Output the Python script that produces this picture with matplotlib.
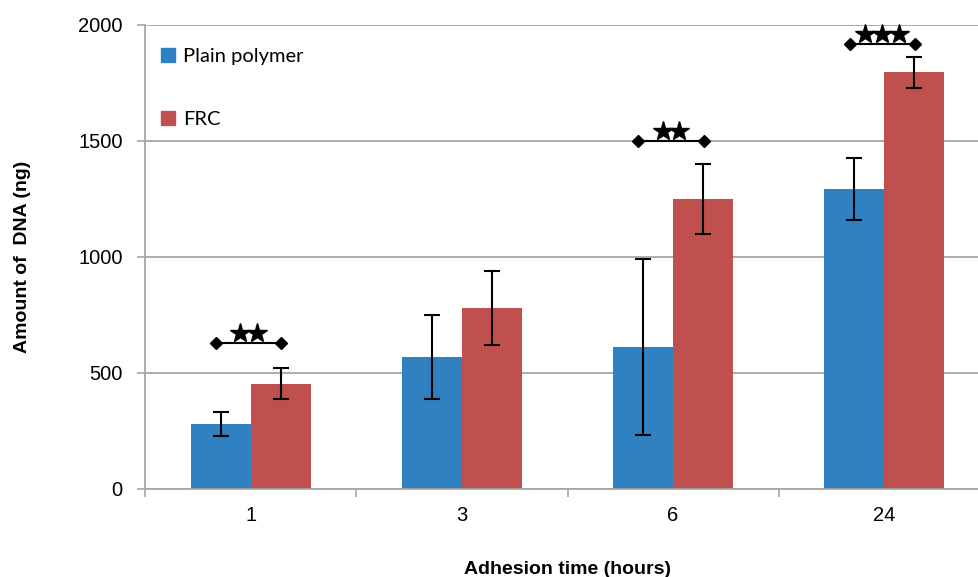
import numpy as np
import matplotlib.pyplot as plt
from matplotlib.patches import Patch

# Adhesion times and DNA amounts (ng)
times = ["1", "3", "6", "24"]
plain_mean = [280, 569, 612, 1293]
plain_err = [52, 179, 379, 134]
frc_mean = [453, 780, 1250, 1797]
frc_err = [67, 159, 149, 67]

# Significance brackets: group index, bracket height, number of stars
sig_group = [0, 2, 3]
sig_height = [629, 1500, 1918]
sig_stars = [2, 2, 3]

blue = "#2f81c1"
red = "#c0504d"
grid_col = "#a6a6a6"

fig = plt.figure(figsize=(9.79, 5.77), dpi=100)
ax = fig.add_axes([145 / 979, 88 / 577, 845 / 979, 464 / 577])

x = np.arange(len(times))
w = 0.284
ax.bar(x - w / 2, plain_mean, w, color=blue, zorder=2)
ax.bar(x + w / 2, frc_mean, w, color=red, zorder=2)
ax.errorbar(x - w / 2, plain_mean, yerr=plain_err, fmt="none", ecolor="black",
            elinewidth=1.5, capsize=6, capthick=1.5, zorder=3)
ax.errorbar(x + w / 2, frc_mean, yerr=frc_err, fmt="none", ecolor="black",
            elinewidth=1.5, capsize=6, capthick=1.5, zorder=3)

# significance markers: bracket with diamond ends, stars sitting on top
for g, h, n in zip(sig_group, sig_height, sig_stars):
    ax.plot([g - 0.165, g + 0.145], [h, h], color="black", lw=1.5,
            marker="D", markersize=6, zorder=4, clip_on=False)
    sx = g - 0.01 + 0.08 * (np.arange(n) - (n - 1) / 2)
    ax.plot(sx, [h + 42] * n, ls="none", marker="*", markersize=15,
            color="black", zorder=4, clip_on=False)

ax.set_xlim(-0.5, 3.5)
ax.set_ylim(0, 2000)
ax.set_yticks([0, 500, 1000, 1500, 2000])
ax.set_xticks(x)
ax.set_xticklabels(times)
ax.set_xticks(np.arange(-0.5, 4, 1), minor=True)
ax.tick_params(axis="x", which="major", length=0, pad=12, labelsize=14.5)
ax.tick_params(axis="x", which="minor", length=6, color=grid_col, width=1.2)
ax.tick_params(axis="y", length=6, color=grid_col, width=1.2, pad=10, labelsize=14.5)
for lbl in ax.get_xticklabels() + ax.get_yticklabels():
    lbl.set_fontfamily("Liberation Sans")

ax.yaxis.grid(True, color=grid_col, lw=1.3, zorder=0)
ax.set_axisbelow(True)
for s in ["top", "right"]:
    ax.spines[s].set_visible(False)
for s in ["left", "bottom"]:
    ax.spines[s].set_color(grid_col)
    ax.spines[s].set_linewidth(1.3)

ax.set_ylabel("Amount of  DNA (ng)", fontsize=14, fontweight="bold",
              family="Liberation Sans", labelpad=34)
ax.set_xlabel("Adhesion time (hours)", fontsize=14, fontweight="bold",
              family="Liberation Sans", labelpad=26)

handles = [Patch(color=blue), Patch(color=red)]
ax.legend(handles, ["Plain polymer", "FRC"], loc="upper left",
          bbox_to_anchor=(-0.003, 0.99), frameon=False, handlelength=0.7,
          handleheight=0.7, handletextpad=0.4, labelspacing=2.3,
          prop={"family": "Lato", "size": 14.5})

fig.savefig("out.png", dpi=100)
